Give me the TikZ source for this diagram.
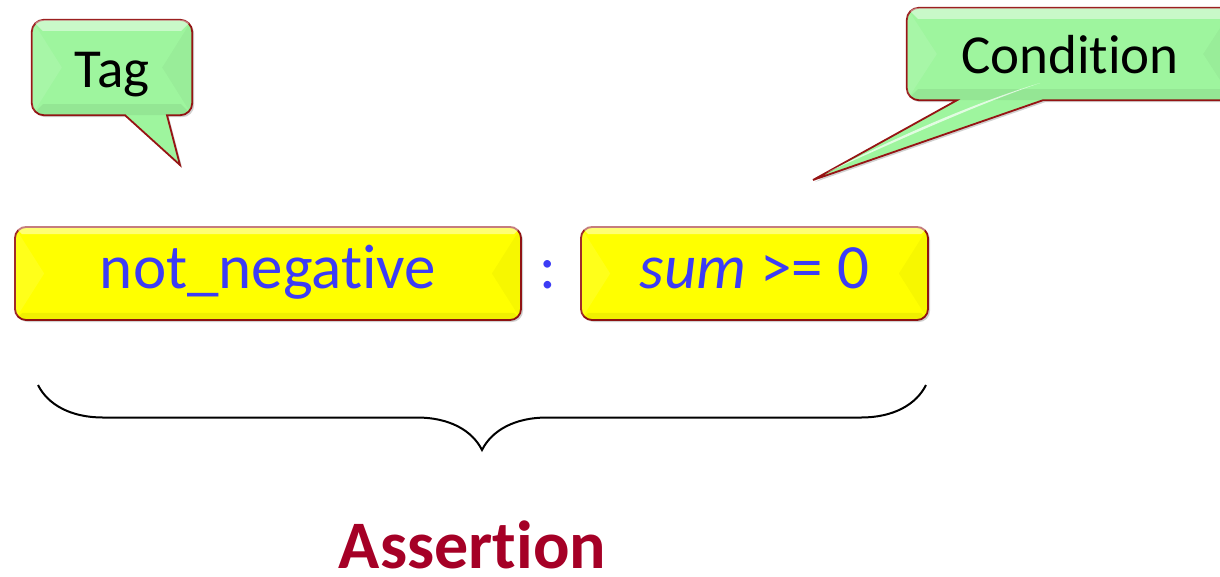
\documentclass[tikz,border=0pt]{standalone}
\usepackage{fontspec}
\setmainfont{Carlito}[Ligatures={NoCommon,NoContextual}]
\usetikzlibrary{shadows,decorations.pathreplacing}
\definecolor{txtblue}{RGB}{60,60,245}
\definecolor{edgered}{RGB}{150,20,20}
\definecolor{assertred}{RGB}{165,0,38}
\definecolor{boxyellow}{RGB}{255,255,0}
\definecolor{callgreen}{RGB}{158,245,158}
\newcommand\bevelover[3]{% #1 node, #2 side depth (pt), #3 top band (pt)
  \begin{scope}
    \clip[rounded corners=11pt] (#1.south west) rectangle (#1.north east);
    \fill[white,opacity=0.10] (#1.north west) -- ([xshift=#2pt]#1.west) -- (#1.south west) -- cycle;
    \fill[black,opacity=0.03] (#1.north east) -- ([xshift=-#2pt]#1.east) -- (#1.south east) -- cycle;
    \fill[white,opacity=0.45] (#1.north west) -- (#1.north east) -- ([shift={(-#3pt,-#3pt)}]#1.north east) -- ([shift={(#3pt,-#3pt)}]#1.north west) -- cycle;
    \fill[black,opacity=0.06] (#1.south west) -- (#1.south east) -- ([shift={(-#3pt,#3pt)}]#1.south east) -- ([shift={(#3pt,#3pt)}]#1.south west) -- cycle;
  \end{scope}}
\tikzset{
  ybox/.style={draw=edgered, line width=1.8pt, fill=boxyellow, rounded corners=11pt,
    minimum height=93pt, inner sep=0pt, text=txtblue, text height=45pt, text depth=16pt,
    font=\fontsize{63}{70}\selectfont,
    drop shadow={shadow xshift=2pt, shadow yshift=-2pt, opacity=0.3, fill=black!60}},
  gbox/.style={inner sep=0pt, text=black, font=\fontsize{55}{60}\selectfont},
  callout/.style={draw=edgered, line width=1.8pt, fill=callgreen, line join=miter,
    drop shadow={shadow xshift=2pt, shadow yshift=-2pt, opacity=0.3, fill=black!60}},
  bracestyle/.style={draw=black, line width=2pt,
    decorate, decoration={brace, mirror, amplitude=65pt, aspect=0.5}},
}
\begin{document}
\begin{tikzpicture}[x=1pt,y=-1pt]
\useasboundingbox (0,0) rectangle (1220,576);
\clip (0,0) rectangle (1220,576);

% yellow boxes
\node[ybox, minimum width=506pt] (tagname) at (268,273.5) {not\_negative};
\bevelover{tagname}{30}{8}
\node[ybox, minimum width=347pt] (cond) at (754.5,273.5) {\textit{sum} >= 0};
\bevelover{cond}{30}{8}
\node[anchor=base, text=txtblue, font=\fontsize{63}{70}\selectfont, inner sep=0pt] (colon) at (548,288) {:};

% Tag callout
\node[gbox, minimum width=160pt, minimum height=95pt, text height=50pt, text depth=11pt] (tag) at (112,67.5) {};
\coordinate (tagtip) at (180,165);
\path[callout] ([xshift=55pt]tag.south) [rounded corners=12pt] -- (tag.south east) -- (tag.north east) -- (tag.north west) -- (tag.south west) [sharp corners] -- ([xshift=13pt]tag.south) -- (tagtip) -- cycle;
\bevelover{tag}{30}{11}
\node[gbox, text height=50pt, text depth=11pt] (tagtext) at (tag.center) {Tag};

% Condition callout
\node[gbox, minimum width=326pt, minimum height=92pt, text height=50pt, text depth=12pt] (condcall) at (1070,54) {};
\coordinate (condtip) at (813,180);
\path[callout] ([xshift=-27pt]condcall.south) [rounded corners=12pt] -- (condcall.south east) -- (condcall.north east) -- (condcall.north west) -- (condcall.south west) [sharp corners] -- ([xshift=-113pt]condcall.south) -- (condtip) -- cycle;
\bevelover{condcall}{30}{11}
\fill[white,opacity=0.7] (828,172) .. controls (930,120) and (1000,95) .. (1040,83) .. controls (990,100) and (920,130) .. (828,172) -- cycle;
\node[gbox, text height=50pt, text depth=12pt] (condtext) at (condcall.center) {Condition};

% brace
\coordinate (braceL) at (38,385);
\coordinate (braceR) at (926,385);
\draw[bracestyle] (braceL) -- (braceR);

% label
\node[anchor=base, text=assertred, font=\fontsize{68}{74}\selectfont\bfseries, inner sep=0pt, text depth=0pt] (assert) at (472.5,568) {Assertion};
\end{tikzpicture}
\end{document}
